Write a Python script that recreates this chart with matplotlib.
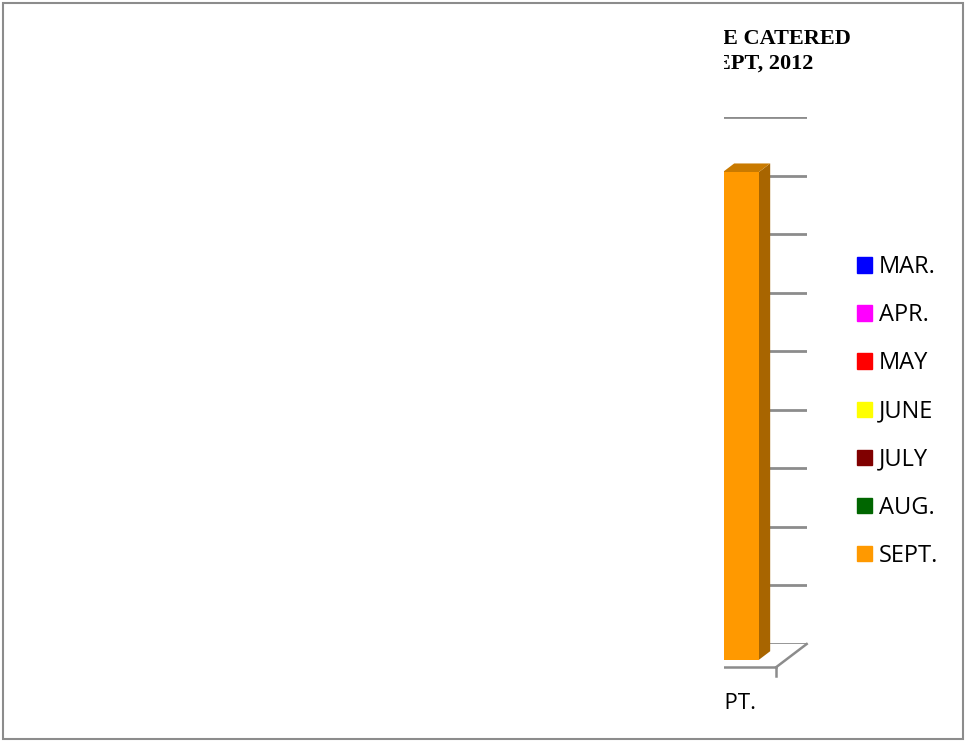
import numpy as np
import matplotlib
matplotlib.use("Agg")
import matplotlib.pyplot as plt
from matplotlib.patches import Polygon, Rectangle, Patch
from matplotlib.transforms import offset_copy, IdentityTransform

# data
months = ["MAR.", "APR.", "MAY", "JUNE", "JULY", "AUG.", "SEPT."]
month_colors = ["#0000FF", "#FF00FF", "#FF0000", "#FFFF00", "#800000", "#006600", "#FF9900"]
shown_month = "SEPT."
shown_value = 833
y_ticks = np.arange(0, 1000, 100)

W, H = 965, 741
fig = plt.figure(figsize=(W / 100, H / 100), dpi=100)

# back wall of the 3d chart
ax = fig.add_axes([176.7 / W, 97 / H, 630 / W, 527 / H])
ax.set_xlim(-0.5, len(months) - 0.5)
ax.set_ylim(0, 900)
ax.set_autoscale_on(False)
ax.set_axis_off()

DX, DY = 30.7, 23.3      # floor depth in pixels
d_front, d_back = 0.69, 0.31
grid_col = "#8c8c8c"
ident = IdentityTransform()


def proj(x, y, d):
    p = ax.transData.transform((x, y))
    return (p[0] - d * DX, p[1] - d * DY)


ax.hlines(y_ticks, -0.5, len(months) - 0.5, colors=grid_col, linewidth=2.0, zorder=1)

# floor edges
x_end = len(months) - 0.5
p0, p1 = proj(x_end, 0, 0), proj(x_end, 0, 1)
ax.plot([p0[0], p1[0]], [p0[1], p1[1]], color=grid_col, lw=1.8, transform=ident, clip_on=False)
q0, q1 = proj(-0.5, 0, 1), proj(x_end, 0, 1)
ax.plot([q0[0], q1[0]], [q0[1], q1[1]], color=grid_col, lw=1.8, transform=ident, clip_on=False)
ax.plot([q1[0], q1[0]], [q1[1], q1[1] - 9], color=grid_col, lw=1.8, transform=ident, clip_on=False)

# the bar
i = months.index(shown_month)
bw = 0.4
front_tr = offset_copy(ax.transData, fig=fig, x=-d_front * DX, y=-d_front * DY, units="dots")
ax.bar(i, shown_value, width=bw, color=month_colors[i], transform=front_tr, clip_on=False, zorder=4)

side = [proj(i + bw / 2, 0, d_front), proj(i + bw / 2, 0, d_back),
        proj(i + bw / 2, shown_value, d_back), proj(i + bw / 2, shown_value, d_front)]
top = [proj(i - bw / 2, shown_value, d_front), proj(i + bw / 2, shown_value, d_front),
       proj(i + bw / 2, shown_value, d_back), proj(i - bw / 2, shown_value, d_back)]
ax.add_patch(Polygon(side, closed=True, facecolor="#A86500", edgecolor="none",
                     transform=ident, clip_on=False, zorder=3))
ax.add_patch(Polygon(top, closed=True, facecolor="#C97A00", edgecolor="none",
                     transform=ident, clip_on=False, zorder=3))

ax.text(i, 0, shown_month, transform=offset_copy(ax.transData, fig=fig, x=-DX - 2, y=-DY - 42, units="dots"),
        ha="center", va="baseline", fontsize=16, family="Open Sans", clip_on=False)

# title (cut off by the blank part)
fig.text(851 / W, 1 - 44.3 / H, "E CATERED", ha="right", va="baseline", family="Liberation Serif",
         fontweight="bold", fontsize=16, zorder=5)
fig.text(813.3 / W, 1 - 68.3 / H, "EPT, 2012", ha="right", va="baseline", family="Liberation Serif",
         fontweight="bold", fontsize=16, zorder=5)

# left part of the picture is blank
fig.add_artist(Rectangle((5 / W, 5 / H), (724 - 5) / W, (736 - 5) / H, transform=fig.transFigure,
                         facecolor="white", edgecolor="none", zorder=10))
fig.add_artist(Rectangle((3 / W, 2 / H), 960 / W, 736 / H, transform=fig.transFigure,
                         facecolor="none", edgecolor=grid_col, linewidth=1.5, zorder=12))

handles = [Patch(color=c) for c in month_colors]
leg = fig.legend(handles, months, loc="center left", bbox_to_anchor=(857.3 / W, 1 - 411.5 / H),
                 frameon=False, prop={"family": "Open Sans", "size": 17},
                 handlelength=0.62, handleheight=0.62, handletextpad=0.3,
                 labelspacing=1.02, borderpad=0, borderaxespad=0)
leg.set_zorder(11)

fig.savefig("out.png", dpi=100)
